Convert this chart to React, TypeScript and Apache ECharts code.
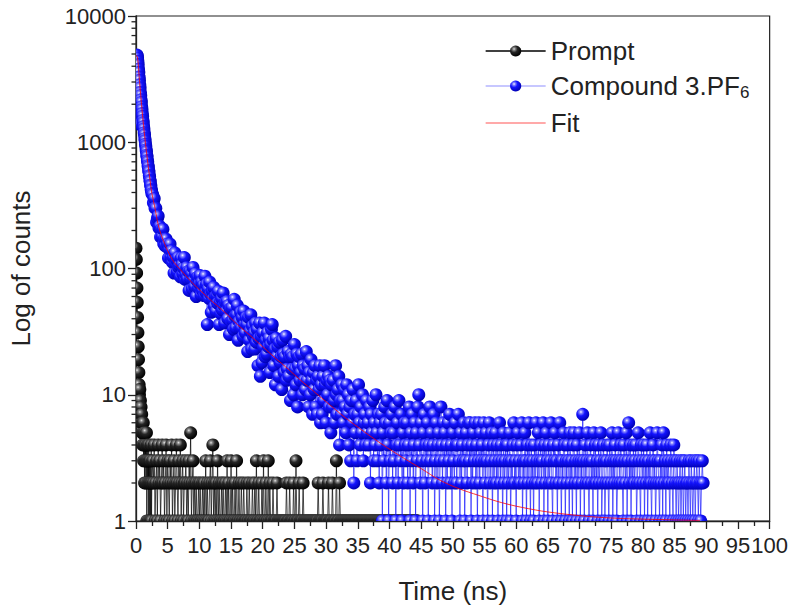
import React, { useEffect, useRef } from "react";
import * as echarts from "echarts";

// ---------------- data ----------------
const EARLY_STEP = 0.05; // ns, channel step for t = 0 .. 2.5 ns
const TAIL_START = 2.625; // ns
const TAIL_STEP = 0.125; // ns, channel step after 2.5 ns

// Compound 3.PF6, counts for t = 0 .. 2.5 ns (step 0.05)
const compoundEarly = [
  1400, 3600, 4700, 4900, 4850, 4650, 4380, 4120, 3810, 3580,
  3290, 3100, 2850, 2700, 2480, 2350, 2170, 2070, 1910, 1820,
  1690, 1610, 1490, 1430, 1330, 1275, 1190, 1145, 1070, 1030,
  965, 930, 872, 845, 790, 768, 718, 700, 655, 638,
  598, 584, 545, 534, 500, 490, 459, 452, 423, 415,
  392,
];

// Compound 3.PF6, counts for t = 2.625 .. 89.5 ns (step 0.125), 2 ns per row
const compoundTail = [
  385, 332, 359, 302, 300, 232, 249, 260, 209, 216, 178, 205, 179, 205, 157, 171,
  151, 171, 149, 156, 121, 142, 156, 124, 138, 112, 123, 92, 133, 110, 118, 94,
  122, 102, 106, 86, 121, 107, 91, 101, 122, 82, 90, 102, 83, 95, 67, 95,
  83, 91, 69, 102, 81, 72, 91, 60, 80, 86, 70, 76, 88, 62, 78, 67,
  74, 61, 87, 65, 75, 36, 69, 58, 78, 63, 45, 67, 57, 71, 50, 60,
  46, 61, 53, 66, 36, 54, 44, 58, 47, 64, 51, 37, 54, 46, 55, 40,
  51, 30, 48, 38, 49, 39, 33, 57, 42, 34, 43, 51, 27, 38, 34, 45,
  34, 41, 29, 46, 36, 31, 41, 36, 22, 41, 27, 32, 43, 23, 35, 29,
  31, 23, 37, 26, 33, 17, 28, 37, 14, 29, 18, 31, 24, 37, 20, 27,
  21, 31, 24, 28, 15, 25, 33, 36, 27, 17, 23, 12, 28, 20, 24, 14,
  26, 18, 20, 11, 27, 21, 15, 20, 29, 13, 16, 22, 14, 20, 9, 21,
  16, 20, 10, 25, 16, 12, 21, 8, 17, 20, 13, 15, 21, 10, 17, 13,
  16, 11, 22, 13, 17, 8, 15, 10, 19, 13, 7, 15, 11, 17, 8, 13,
  7, 14, 11, 17, 6, 12, 7, 14, 9, 17, 12, 6, 13, 10, 14, 8,
  13, 5, 12, 8, 13, 9, 6, 17, 10, 7, 11, 14, 4, 9, 7, 12,
  9, 6, 11, 8, 5, 12, 7, 10, 4, 8, 3, 9, 6, 11, 2, 7,
  5, 9, 3, 7, 12, 6, 4, 8, 5, 10, 3, 6, 7, 4, 9, 5,
  6, 4, 8, 2, 7, 5, 9, 3, 6, 4, 10, 5, 3, 7, 2, 6,
  4, 7, 1, 5, 3, 8, 6, 2, 9, 4, 1, 6, 3, 5, 7, 2,
  5, 3, 8, 1, 4, 6, 2, 9, 4, 3, 7, 1, 5, 2, 6, 4,
  3, 6, 2, 4, 8, 1, 5, 3, 7, 2, 4, 6, 1, 5, 3, 8,
  10, 4, 2, 6, 3, 1, 5, 7, 2, 4, 3, 6, 1, 4, 8, 3,
  5, 2, 4, 7, 1, 3, 6, 2, 4, 5, 1, 3, 8, 4, 2, 6,
  3, 5, 1, 4, 2, 6, 3, 7, 2, 4, 1, 5, 3, 2, 6, 4,
  2, 4, 7, 3, 1, 5, 2, 4, 3, 6, 1, 3, 5, 2, 4, 6,
  3, 6, 1, 4, 2, 5, 3, 6, 2, 4, 1, 3, 6, 2, 5, 3,
  4, 1, 6, 3, 2, 5, 3, 1, 4, 6, 2, 3, 5, 1, 4, 2,
  3, 5, 2, 4, 1, 3, 6, 2, 4, 3, 1, 5, 2, 3, 4, 1,
  4, 2, 3, 5, 1, 3, 2, 4, 6, 2, 3, 1, 4, 5, 2, 3,
  2, 4, 6, 1, 3, 2, 5, 3, 1, 4, 2, 6, 3, 1, 4, 2,
  3, 1, 4, 2, 6, 3, 2, 5, 1, 3, 4, 2, 3, 6, 1, 4,
  2, 5, 3, 1, 4, 2, 3, 6, 2, 1, 4, 3, 5, 2, 3, 1,
  4, 2, 6, 3, 1, 3, 2, 5, 4, 1, 3, 2, 4, 3, 1, 5,
  2, 3, 1, 4, 5, 2, 3, 1, 4, 2, 3, 5, 1, 3, 2, 7,
  3, 1, 4, 2, 3, 5, 2, 1, 3, 4, 2, 3, 1, 5, 2, 4,
  2, 3, 1, 4, 2, 3, 5, 1, 2, 4, 3, 1, 2, 3, 4, 2,
  1, 4, 3, 2, 5, 1, 3, 2, 4, 3, 1, 2, 5, 3, 2, 4,
  3, 2, 1, 4, 3, 2, 5, 1, 3, 6, 2, 4, 1, 3, 2, 4,
  2, 3, 4, 1, 2, 5, 3, 2, 1, 4, 3, 2, 4, 1, 3, 2,
  4, 1, 3, 2, 5, 2, 1, 3, 4, 2, 3, 1, 2, 5, 3, 2,
  1, 3, 2, 4, 1, 5, 2, 3, 1, 4, 2, 3, 2, 1, 4, 3,
  2, 1, 4, 3, 2, 1, 3, 2, 1, 2, 3, 1, 2, 3, 1, 2,
  3, 1, 2, 2, 1, 3, 2, 1, 3, 2, 1, 2, 3, 1, 2, 3,
  2, 1, 3, 2, 1, 2, 3, 2,
];

// Prompt (IRF), counts for t = 0 .. 2.5 ns (step 0.05)
const promptEarly = [
  145, 118, 92, 70, 54, 41, 31, 24, 19, 15,
  12, 10, 11, 8, 9, 7, 8, 6, 7, 5,
  6, 4, 5, 6, 3, 5, 4, 2, 5, 3,
  4, 2, 3, 5, 1, 3, 4, 2, 3, 1,
  4, 2, 3, 1, 2, 3, 1, 2, 4, 1,
  2,
];

// Prompt (IRF), counts for t = 2.625 .. 44.5 ns (step 0.125), 2 ns per row
const promptTail = [
  3, 2, 4, 1, 2, 3, 1, 4, 2, 3, 1, 2, 4, 2, 3, 1,
  2, 4, 1, 3, 2, 1, 3, 2, 4, 1, 2, 3, 1, 2, 4, 2,
  1, 3, 2, 4, 1, 2, 3, 1, 2, 2, 3, 1, 2, 1, 3, 2,
  5, 1, 2, 3, 1, 2, 1, 2, 1, 1, 2, 1, 2, 1, 1, 2,
  1, 2, 1, 3, 1, 2, 1, 1, 2, 3, 1, 2, 4, 1, 2, 1,
  2, 1, 3, 1, 2, 1, 1, 2, 1, 2, 1, 1, 2, 1, 3, 1,
  2, 1, 1, 3, 1, 2, 1, 1, 2, 1, 3, 1, 1, 2, 1, 1,
  2, 1, 1, 2, 1, 1, 1, 2, 1, 1, 2, 1, 1, 1, 2, 1,
  1, 2, 1, 3, 1, 1, 2, 1, 1, 1, 2, 1, 3, 1, 1, 2,
  1, 1, 3, 1, 2, 1, 1, 1, 2, 1, 1, 1, 1, 2, 1, 1,
  1, 1, 1, 1, 1, 1, 1, 1, 1, 2, 1, 1, 1, 2, 1, 1,
  1, 1, 2, 1, 1, 3, 1, 1, 1, 2, 1, 1, 1, 1, 2, 1,
  1, 1, 1, 1, 1, 1, 1, 1, 1, 1, 1, 1, 1, 1, 1, 1,
  1, 2, 1, 1, 1, 1, 1, 2, 1, 1, 1, 1, 1, 1, 2, 1,
  1, 1, 1, 2, 1, 1, 1, 1, 3, 1, 1, 1, 2, 1, 1, 1,
  1, 1, 1, 1, 1, 1, 1, 1, 1, 1, 1, 1, 1, 1, 1, 1,
  1, 1, 1, 1, 1, 1, 1, 1, 1, 1, 1, 1, 1, 1, 1, 1,
  1, 1, 1, 1, 1, 1, 1, 1, 1, 1, 1, 1, 1, 1, 1, 1,
  1, 1, 1, 1, 1, 1, 1, 1, 1, 1, 1, 1, 1, 1, 1, 1,
  1, 1, 1, 1, 1, 1, 1, 1, 1, 1, 1, 1, 1, 1, 1, 1,
  1, 1, 1, 1, 1, 1, 1, 1, 1, 1, 1, 1, 1, 1, 1, 1,
];

// Fit curve
const fitTime = [
  0, 0.25, 0.5, 0.75, 1, 1.25, 1.5, 1.75, 2, 2.25, 2.5, 3, 3.5, 4, 4.5, 5,
  6, 7, 8, 9, 10, 12, 14, 16, 18, 20, 22, 24, 26, 28, 30, 33, 36, 39, 42, 45,
  48, 51, 54, 57, 60, 64, 68, 72, 76, 80, 85, 89,
];
const fitCounts = [
  4900, 4650, 3300, 2340, 1700, 1270, 970, 760, 605, 485, 395, 300, 222, 183, 158, 138,
  112, 98, 86, 76, 68, 55, 45, 36, 29.5, 24, 19.5, 16, 13, 10.7, 8.8, 6.6, 5.1, 4.0, 3.2, 2.6,
  2.1, 1.8, 1.6, 1.43, 1.31, 1.2, 1.13, 1.08, 1.05, 1.035, 1.02, 1.01,
];

// Minor ticks of the log axis
const yMinorTicks = [
  2, 3, 4, 5, 6, 7, 8, 9,
  20, 30, 40, 50, 60, 70, 80, 90,
  200, 300, 400, 500, 600, 700, 800, 900,
  2000, 3000, 4000, 5000, 6000, 7000, 8000, 9000,
];

const SERIES_PROMPT = "Prompt";
const SERIES_COMPOUND = "Compound 3.PF6";
const SERIES_FIT = "Fit";

// ---------------- helpers ----------------
function buildPairs(early: number[], tail: number[]): number[][] {
  const a = early.map((v, i) => [Number((i * EARLY_STEP).toFixed(3)), v]);
  const b = tail.map((v, i) => [Number((TAIL_START + i * TAIL_STEP).toFixed(3)), v]);
  return a.concat(b);
}

const FONT = "'Liberation Sans', Arial, Helvetica, sans-serif";
const AXIS_COLOR = "#222";
const TEXT_COLOR = "#222";
const BALL_RADIUS = 6.5;

function ballSeries(name: string, data: number[][], fill: any, z: number) {
  return {
    type: "custom",
    name,
    data,
    clip: true,
    silent: true,
    z,
    encode: { x: 0, y: 1 },
    renderItem: (_params: any, api: any) => {
      const p = api.coord([api.value(0), api.value(1)]);
      return {
        type: "circle",
        shape: { cx: p[0], cy: p[1], r: BALL_RADIUS },
        style: { fill },
      };
    },
  };
}

export default function App() {
  const ref = useRef<HTMLDivElement>(null);

  useEffect(() => {
    if (!ref.current) return;
    const chart = echarts.init(ref.current, null, { renderer: "svg" });

    const blueBall = new echarts.graphic.RadialGradient(0.36, 0.32, 0.68, [
      { offset: 0, color: "#ffffff" },
      { offset: 0.16, color: "#8c8cff" },
      { offset: 0.45, color: "#1414ff" },
      { offset: 1, color: "#0000b4" },
    ]);
    const blackBall = new echarts.graphic.RadialGradient(0.36, 0.32, 0.68, [
      { offset: 0, color: "#e6e6e6" },
      { offset: 0.16, color: "#8a8a8a" },
      { offset: 0.45, color: "#262626" },
      { offset: 1, color: "#000000" },
    ]);

    const promptData = buildPairs(promptEarly, promptTail);
    const compoundData = buildPairs(compoundEarly, compoundTail);
    const fitData = fitTime.map((t, i) => [t, fitCounts[i]]);
    const minorTickData = yMinorTicks.map((v) => [0, v]);

    const option: any = {
      animation: false,
      backgroundColor: "#ffffff",
      grid: {
        left: 136,
        right: 20,
        top: 16,
        bottom: 82,
        show: true,
        borderColor: AXIS_COLOR,
        borderWidth: 1.2,
        backgroundColor: "transparent",
      },
      legend: {
        orient: "vertical",
        left: 480,
        top: 33,
        itemWidth: 60,
        itemHeight: 14,
        itemGap: 9,
        selectedMode: false,
        data: [
          { name: SERIES_PROMPT, lineStyle: { color: "#000000", width: 1.3 } },
          { name: SERIES_COMPOUND, lineStyle: { color: "#b4b4ff", width: 1.3 } },
          { name: SERIES_FIT, itemStyle: { opacity: 0 }, lineStyle: { color: "#ff8c8c", width: 1.3 } },
        ],
        formatter: (name: string) =>
          name === SERIES_COMPOUND ? "{a|Compound 3.PF}{b|6}" : `{a|${name}}`,
        textStyle: {
          fontFamily: FONT,
          fontSize: 26,
          color: TEXT_COLOR,
          rich: {
            a: { fontFamily: FONT, fontSize: 26, color: TEXT_COLOR, lineHeight: 30 },
            b: {
              fontFamily: FONT,
              fontSize: 17,
              color: TEXT_COLOR,
              lineHeight: 14,
              verticalAlign: "bottom",
            },
          },
        },
      },
      xAxis: {
        type: "value",
        min: 0,
        max: 100,
        interval: 5,
        axisLine: { show: true, onZero: false, lineStyle: { color: AXIS_COLOR, width: 1.3 } },
        axisTick: { show: true, inside: false, length: 8, lineStyle: { color: AXIS_COLOR, width: 1.3 } },
        minorTick: { show: true, splitNumber: 2, length: 5, lineStyle: { color: AXIS_COLOR, width: 1.3 } },
        splitLine: { show: false },
        minorSplitLine: { show: false },
        axisLabel: { fontFamily: FONT, fontSize: 22, color: TEXT_COLOR, margin: 13 },
        name: "Time (ns)",
        nameLocation: "middle",
        nameGap: 57,
        nameTextStyle: { fontFamily: FONT, fontSize: 26, color: TEXT_COLOR },
      },
      yAxis: {
        type: "log",
        logBase: 10,
        min: 1,
        max: 10000,
        axisLine: { show: true, onZero: false, lineStyle: { color: AXIS_COLOR, width: 1.3 } },
        axisTick: { show: true, inside: false, length: 8, lineStyle: { color: AXIS_COLOR, width: 1.3 } },
        minorTick: { show: false },
        splitLine: { show: false },
        axisLabel: {
          fontFamily: FONT,
          fontSize: 22,
          color: TEXT_COLOR,
          margin: 10,
          formatter: (v: number) => String(Math.round(v)),
        },
        name: "Log of counts",
        nameLocation: "middle",
        nameGap: 102,
        nameTextStyle: { fontFamily: FONT, fontSize: 26, color: TEXT_COLOR },
      },
      series: [
        {
          type: "line",
          name: SERIES_PROMPT,
          data: promptData,
          symbol: "none",
          lineStyle: { color: "#000000", width: 0.7 },
          itemStyle: { color: blackBall },
          emphasis: { disabled: true },
          z: 2,
        },
        ballSeries("Prompt markers", promptData, blackBall, 3),
        {
          type: "line",
          name: SERIES_COMPOUND,
          data: compoundData,
          symbol: "none",
          lineStyle: { color: "#0000ff", width: 0.6 },
          itemStyle: { color: blueBall },
          emphasis: { disabled: true },
          z: 4,
        },
        ballSeries("Compound markers", compoundData, blueBall, 5),
        {
          type: "line",
          name: SERIES_FIT,
          data: fitData,
          symbol: "none",
          smooth: 0.3,
          lineStyle: { color: "#ff0000", width: 0.8 },
          itemStyle: { color: "#ff0000" },
          emphasis: { disabled: true },
          z: 6,
        },
        {
          type: "custom",
          name: "minor-ticks",
          data: minorTickData,
          clip: false,
          silent: true,
          z: 7,
          renderItem: (_params: any, api: any) => {
            const p = api.coord([0, api.value(1)]);
            return {
              type: "line",
              shape: { x1: p[0] - 4.5, y1: p[1], x2: p[0], y2: p[1] },
              style: { stroke: AXIS_COLOR, lineWidth: 1.3 },
            };
          },
        },
      ],
    };

    chart.setOption(option);
    return () => chart.dispose();
  }, []);

  return (
    <div
      ref={ref}
      style={{ position: "fixed", left: 0, top: 0, width: 791, height: 609, background: "#fff" }}
    />
  );
}
